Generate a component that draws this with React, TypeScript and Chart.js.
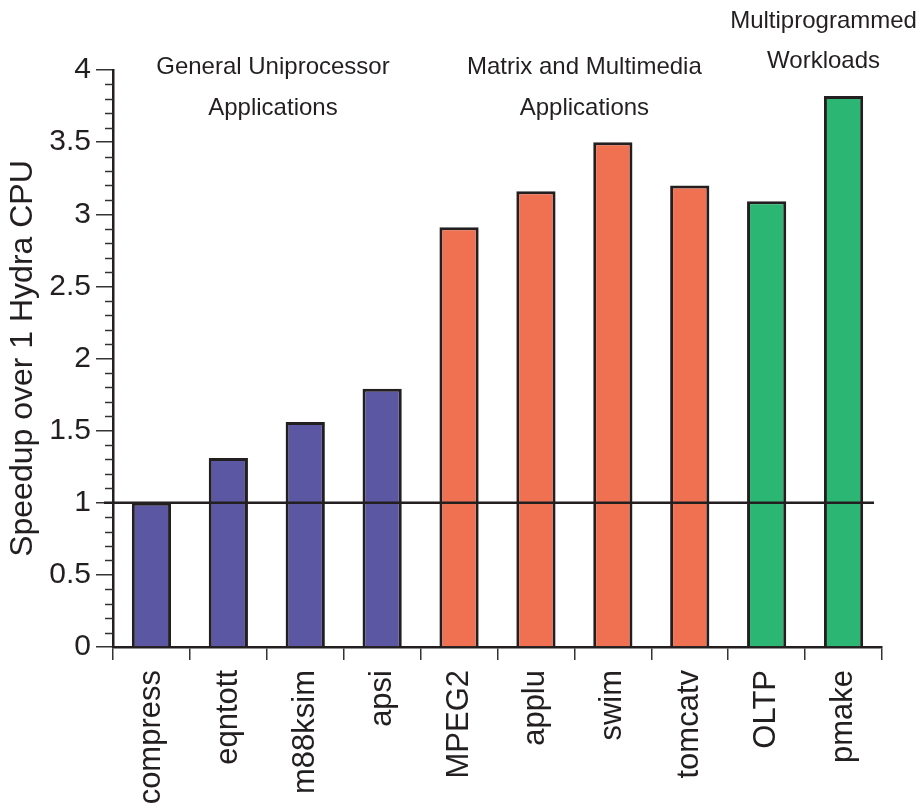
import React, { useEffect, useRef } from "react";
import { Chart, registerables } from "chart.js";

Chart.register(...registerables);

const categories = ["compress", "eqntott", "m88ksim", "apsi", "MPEG2", "applu", "swim", "tomcatv", "OLTP", "pmake"];
const speedup = [1.0, 1.31, 1.56, 1.79, 2.91, 3.16, 3.5, 3.2, 3.09, 3.82];
const groupOf = [0, 0, 0, 0, 1, 1, 1, 1, 2, 2];
const groupColors = ["#5b57a3", "#f07052", "#2bb673"];
const groupLabels = [
  ["General Uniprocessor", "Applications"],
  ["Matrix and Multimedia", "Applications"],
  ["Multiprogrammed", "Workloads"],
];
const groupLabelCenter = [1.58, 5.63, 8.74];
const groupLabelOffsets = [[-3, 38], [-3, 38], [-49, -9]];
const referenceValue = 1;
const yTickValues = [0, 0.5, 1, 1.5, 2, 2.5, 3, 3.5, 4];

const INK = "#231f20";
const FONT = "'Liberation Sans', Arial, Helvetica, sans-serif";

const overlayPlugin = {
  id: "overlay",
  afterDatasetsDraw(chart: any) {
    const { ctx, chartArea, scales } = chart;
    const y = scales.y;
    const x = scales.x;
    ctx.save();
    // minor ticks every 0.1
    ctx.strokeStyle = "#333";
    ctx.lineWidth = 1.5;
    for (let i = 0; i <= 40; i++) {
      if (i % 5 === 0) continue;
      const py = Math.round(y.getPixelForValue(i / 10)) + 0.5;
      ctx.beginPath();
      ctx.moveTo(y.right - 8, py);
      ctx.lineTo(y.right, py);
      ctx.stroke();
    }
    // reference line at 1
    const ry = y.getPixelForValue(referenceValue);
    ctx.strokeStyle = INK;
    ctx.lineWidth = 2.5;
    ctx.beginPath();
    ctx.moveTo(y.right - 9, ry);
    ctx.lineTo(chartArea.right - 8, ry);
    ctx.stroke();
    // group labels
    ctx.fillStyle = INK;
    ctx.font = `24px ${FONT}`;
    ctx.textAlign = "center";
    ctx.textBaseline = "middle";
    groupLabels.forEach((lines, g) => {
      const cx = x.getPixelForDecimal((groupLabelCenter[g] + 0.5) / categories.length);
      lines.forEach((t, li) => {
        ctx.fillText(t, cx, chartArea.top + groupLabelOffsets[g][li]);
      });
    });
    ctx.restore();
  },
};

export default function App() {
  const ref = useRef<HTMLCanvasElement>(null);
  useEffect(() => {
    if (!ref.current) return;
    const chart = new Chart(ref.current, {
      type: "bar",
      data: {
        labels: categories,
        datasets: [
          {
            data: speedup,
            backgroundColor: groupOf.map((g) => groupColors[g]),
            borderColor: INK,
            borderWidth: 3,
            barPercentage: 0.51,
            categoryPercentage: 1,
          },
        ],
      },
      options: {
        responsive: false,
        animation: false,
        layout: { padding: { top: 70, right: 40, bottom: 0, left: 0 } },
        plugins: { legend: { display: false }, tooltip: { enabled: false } },
        scales: {
          x: {
            afterFit: (s: any) => { s.height = 164; },
            grid: { display: true, drawOnChartArea: false, drawTicks: true, tickLength: 13, offset: true, color: "#333", lineWidth: 1.5 },
            border: { display: true, color: INK, width: 2.5 },
            ticks: { minRotation: 90, maxRotation: 90, padding: 10, color: INK, font: { family: FONT, size: 31 } },
          },
          y: {
            min: 0,
            max: 4,
            afterFit: (s: any) => { s.width = 113; },
            afterBuildTicks: (s: any) => { s.ticks = yTickValues.map((v) => ({ value: v })); },
            grid: { display: true, drawOnChartArea: false, drawTicks: true, tickLength: 17, color: "#333", lineWidth: 1.5 },
            border: { display: true, color: INK, width: 2.5 },
            ticks: { padding: 5, color: INK, font: { family: FONT, size: 30 }, callback: (v: any) => String(v) },
            title: { display: true, text: "Speedup over 1 Hydra CPU", color: INK, font: { family: FONT, size: 32 }, padding: { top: 4, bottom: 0 } },
          },
        },
      },
      plugins: [overlayPlugin],
    });
    return () => chart.destroy();
  }, []);
  return (
    <div style={{ position: "absolute", left: 0, top: 0, width: 922, height: 811, background: "#fff" }}>
      <canvas ref={ref} width={922} height={811} style={{ display: "block" }} />
    </div>
  );
}
